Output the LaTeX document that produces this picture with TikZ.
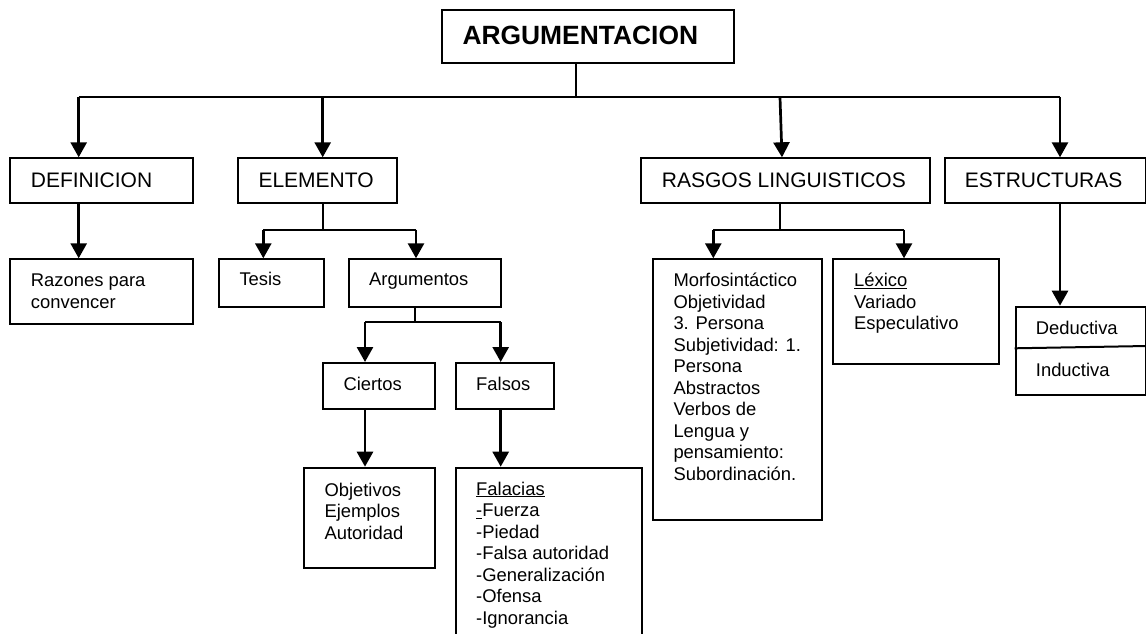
\documentclass[tikz,border=0pt]{standalone}
\usepackage{fontspec}
\setmainfont{Liberation Sans}
\usetikzlibrary{arrows.meta,calc}
\newcommand\tlines[1]{\vtop{\halign{##\hfil\cr#1\crcr}}}
\begin{document}
\begin{tikzpicture}[x=1pt,y=-1pt,
  box/.style={draw, line width=2pt, inner sep=0pt, anchor=north west},
  conn/.style={line width=1.8pt},
  arr/.style={line width=2.7pt, -{Triangle[width=16pt,length=15pt]}},
  titletxt/.style={font=\fontsize{26.4}{30}\selectfont\bfseries, inner sep=0pt, anchor=base west},
  headtxt/.style={font=\fontsize{21}{25}\selectfont, inner sep=0pt, anchor=base west},
  bodytxt/.style={font=\fontsize{18.4}{21.5}\selectfont, inner sep=0pt, anchor=base west}]
\useasboundingbox (0,0) rectangle (1146,634);
\fill[white] (0,0) rectangle (1146,634);
\clip (0,0) rectangle (1146,634);

% boxes
\node[box, minimum width=292pt, minimum height=52.4pt] (title) at (440.7,9.3) {};
\node[box, minimum width=183pt, minimum height=45pt] (defn) at (9.3,157.3) {};
\node[box, minimum width=159pt, minimum height=45pt] (elem) at (237,157.3) {};
\node[box, minimum width=289.3pt, minimum height=45pt] (rasgos) at (640,157.3) {};
\node[box, minimum width=201.3pt, minimum height=45pt] (estr) at (943.7,157.3) {};
\node[box, minimum width=183pt, minimum height=64.4pt] (razones) at (9.3,258.3) {};
\node[box, minimum width=105pt, minimum height=47.7pt] (tesis) at (217.7,258.3) {};
\node[box, minimum width=151.7pt, minimum height=47.7pt] (argum) at (348.3,258.3) {};
\node[box, minimum width=112pt, minimum height=45.7pt] (ciertos) at (322.3,362) {};
\node[box, minimum width=97.7pt, minimum height=45.7pt] (falsos) at (455,362) {};
\node[box, minimum width=131pt, minimum height=100pt] (objet) at (303.3,466.7) {};
\node[box, minimum width=185.7pt, minimum height=193.3pt] (falac) at (455,466.7) {};
\node[box, minimum width=169pt, minimum height=260.7pt] (morfo) at (651.7,258.3) {};
\node[box, minimum width=166.3pt, minimum height=104.4pt] (lexico) at (832,258.3) {};
\node[box, minimum width=130.3pt, minimum height=88pt] (deduc) at (1014.7,305.7) {};
\draw[line width=2pt] ($(deduc.north west)+(0,42.6)$) -- ($(deduc.north east)+(0,40.3)$);

% texts
\node[titletxt] (ttitle) at (462.3,44.3) {ARGUMENTACION};
\node[headtxt] (tdefn) at (30.7,187.7) {DEFINICION};
\node[headtxt] (telem) at (258.3,187.7) {ELEMENTO};
\node[headtxt] (trasgos) at (661.7,187.7) {RASGOS LINGUISTICOS};
\node[headtxt] (testr) at (964.7,187.7) {ESTRUCTURAS};
\node[bodytxt] (trazones) at (30.7,286.7) {\tlines{Razones para\cr convencer}};
\node[bodytxt] (ttesis) at (239.3,285.7) {Tesis};
\node[bodytxt] (targum) at (369,285.7) {Argumentos};
\node[bodytxt] (tciertos) at (343.3,390) {Ciertos};
\node[bodytxt] (tfalsos) at (476,390) {Falsos};
\node[bodytxt] (tobjet) at (324.3,496) {\tlines{Objetivos\cr Ejemplos\cr Autoridad}};
\node[bodytxt] (tfalac) at (476,495) {\tlines{\underline{Falacias}\cr \underline{-}Fuerza\cr -Piedad\cr -Falsa autoridad\cr -Generalización\cr -Ofensa\cr -Ignorancia}};
\node[bodytxt] (tmorfo) at (673.3,286.7) {\tlines{Morfosintáctico\cr Objetividad\cr 3. Persona\cr Subjetividad: 1.\cr Persona\cr Abstractos\cr Verbos de\cr Lengua y\cr pensamiento:\cr Subordinación.}};
\node[bodytxt] (tlexico) at (854,286.7) {\tlines{\underline{Léxico}\cr Variado\cr Especulativo}};
\node[bodytxt] (tded) at (1035.7,334) {Deductiva};
\node[bodytxt] (tind) at (1035.7,376.7) {Inductiva};

% connectors
\coordinate (b0) at (576,97.3);
\coordinate (b1) at (78.7,97.3);
\coordinate (b2) at (322.7,97.3);
\coordinate (b3) at (780,97.3);
\coordinate (b4) at (1060,97.3);
\draw[conn] (title.south -| b0) -- (b0);
\draw[conn] (b1) -- (b4);
\draw[arr] (b1) -- (b1 |- defn.north);
\draw[arr] (b2) -- (b2 |- elem.north);
\draw[arr] (b3) -- ($(b3 |- rasgos.north)+(2,0)$);
\draw[arr] (b4) -- (b4 |- estr.north);
\draw[arr] (defn.south -| b1) -- (b1 |- razones.north);

\coordinate (e0) at (322.7,229.7);
\coordinate (e1) at (263.3,229.7);
\coordinate (e2) at (416,229.7);
\draw[conn] (elem.south -| e0) -- (e0);
\draw[conn] (e1) -- (e2);
\draw[arr] (e1) -- (e1 |- tesis.north);
\draw[arr] (e2) -- (e2 |- argum.north);

\coordinate (a0) at (415,322.3);
\coordinate (a1) at (365,322.3);
\coordinate (a2) at (500.7,322.3);
\draw[conn] (argum.south -| a0) -- (a0);
\draw[conn] (a1) -- (a2);
\draw[arr] (a1) -- (a1 |- ciertos.north);
\draw[arr] (a2) -- (a2 |- falsos.north);
\draw[arr] (ciertos.south -| a1) -- (a1 |- objet.north);
\draw[arr] (falsos.south -| a2) -- (a2 |- falac.north);

\coordinate (r0) at (780,229.7);
\coordinate (r1) at (713.3,229.7);
\coordinate (r2) at (904,229.7);
\draw[conn] (rasgos.south -| r0) -- (r0);
\draw[conn] (r1) -- (r2);
\draw[arr] (r1) -- (r1 |- morfo.north);
\draw[arr] (r2) -- (r2 |- lexico.north);

\draw[arr] (estr.south -| b4) -- (b4 |- deduc.north);
\end{tikzpicture}
\end{document}
